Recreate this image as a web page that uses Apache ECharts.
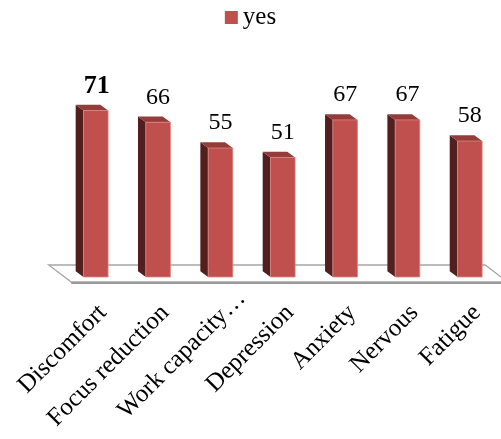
<!DOCTYPE html>
<html>
<head>
<meta charset="utf-8">
<script src="https://cdn.jsdelivr.net/npm/echarts@6/dist/echarts.min.js"></script>
<style>
  html, body { margin: 0; padding: 0; background: #fff; }
  #chart { width: 501px; height: 439px; }
</style>
</head>
<body>
<div id="chart"></div>
<script>
// Symptom categories and share of "yes" answers
const categories = ['Discomfort', 'Focus reduction', 'Work capacity…', 'Depression', 'Anxiety', 'Nervous', 'Fatigue'];
const yesValues = [71, 66, 55, 51, 67, 67, 58];
const seriesName = 'yes';

const SERIF = '"Liberation Serif", "Times New Roman", serif';
const FRONT = '#C0504D';
const SIDE = '#521E1E';
const TOP = '#933C3A';

const maxValue = Math.max.apply(null, yesValues);

// pseudo-3D bar: front face, dark left side and a top face receding up-left
function renderBar(params, api) {
  const idx = api.value(0);
  const v = api.value(1);
  const top = api.coord([idx, v]);
  const base = api.coord([idx, 0]);
  const band = api.size([1, 0])[0];
  const w = band * 0.395;
  const dx = -band * 0.125;
  const dy = -band * 0.092;
  const cx = top[0];
  const xl = cx - w / 2, xr = cx + w / 2;
  const yt = top[1], yb = base[1];
  const isMax = v === maxValue;
  return {
    type: 'group',
    children: [
      { type: 'polygon', shape: { points: [[xl, yb], [xl, yt], [xl + dx, yt + dy], [xl + dx, yb + dy]] },
        style: { fill: SIDE } },
      { type: 'polygon', shape: { points: [[xl, yt], [xr, yt], [xr + dx, yt + dy], [xl + dx, yt + dy]] },
        style: { fill: TOP } },
      { type: 'rect', shape: { x: xl, y: yt, width: w, height: yb - yt },
        style: { fill: FRONT, stroke: '#D98683', lineWidth: 0.8 } },
      { type: 'text', x: cx + (isMax ? 1 : 0), y: yt - (isMax ? 11 : 13),
        style: { text: String(v), textAlign: 'center', textVerticalAlign: 'bottom',
                 font: (isMax ? 'bold 26px ' : '24px ') + SERIF, fill: '#000' } }
    ]
  };
}

// floor plate spanning the category axis
function renderFloor(params, api) {
  const cs = params.coordSys;
  const y0 = api.coord([0, 0])[1];
  const L = cs.x, R = cs.x + cs.width;
  const k = 1.32, back = 12, front = 5;
  const pts = [
    [L - back * k, y0 - back], [R - back * k, y0 - back],
    [R + front * k, y0 + front], [L + front * k, y0 + front]
  ];
  return {
    type: 'group',
    children: [
      { type: 'polygon', shape: { points: pts },
        style: { fill: '#FFFFFF', stroke: '#A6A6A6', lineWidth: 1.3 } },
      { type: 'line', shape: { x1: L + front * k, y1: y0 + front + 1, x2: R + front * k + 2, y2: y0 + front + 1 },
        style: { stroke: '#9A9A9A', lineWidth: 2 } }
    ]
  };
}

// truncated category names sit a little further along the label direction
const axisData = categories.map(function (c) {
  return /…$/.test(c) ? { value: c, textStyle: { padding: [0, -30, 0, 0] } } : c;
});

const chart = echarts.init(document.getElementById('chart'), null, { renderer: 'canvas' });
chart.setOption({
  animation: false,
  backgroundColor: '#FFFFFF',
  legend: {
    data: [{ name: seriesName, icon: 'rect' }],
    left: 'center',
    top: 0,
    itemWidth: 13,
    itemHeight: 13,
    itemGap: 5,
    textStyle: { fontFamily: SERIF, fontSize: 25, color: '#000', padding: [8, 0, 0, 0] }
  },
  grid: { left: 64.6, width: 439.6, top: 89.4, bottom: 162, containLabel: false },
  xAxis: {
    type: 'category',
    data: axisData,
    axisLine: { show: false },
    axisTick: { show: false },
    axisLabel: {
      interval: 0,
      rotate: 45,
      margin: 39,
      padding: [0, -10, 0, 0],
      fontFamily: SERIF,
      fontSize: 25,
      color: '#000'
    }
  },
  yAxis: {
    type: 'value',
    min: 0,
    max: 80,
    show: false,
    splitLine: { show: false }
  },
  series: [
    {
      type: 'custom',
      name: 'floor',
      silent: true,
      renderItem: renderFloor,
      data: [[0, 0]],
      encode: { x: 0, y: 1 },
      z: 1
    },
    {
      type: 'custom',
      name: seriesName,
      itemStyle: { color: FRONT },
      renderItem: renderBar,
      data: yesValues.map(function (v, i) { return [i, v]; }),
      encode: { x: 0, y: 1 },
      z: 2
    }
  ]
});
</script>
</body>
</html>
